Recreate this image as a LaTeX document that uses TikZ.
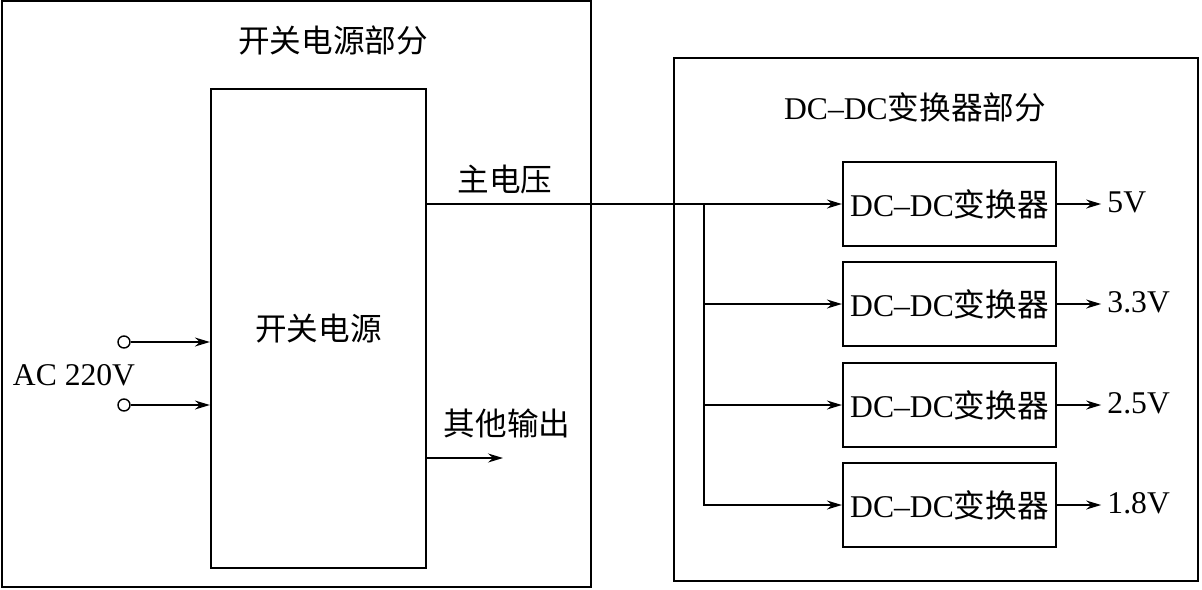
\documentclass[tikz,border=0pt]{standalone}
\usepackage{fontspec}
\setmainfont{Liberation Serif}
\newfontfamily\cjk{Noto Sans CJK SC}
\usepackage{tikz}
\usetikzlibrary{positioning,arrows.meta,calc}

\begin{document}
\begin{tikzpicture}[x=0.02cm,y=-0.02cm,every node/.style={font=\fontsize{18}{21}\selectfont}]
      \tikzstyle{frame}=[draw,line width=1.3pt,inner sep=0pt];
      \tikzstyle{box}=[draw,line width=1.3pt,inner sep=0pt,minimum width=4.26cm,minimum height=1.68cm];
      \tikzstyle{term}=[circle,draw,line width=0.8pt,inner sep=0pt,minimum size=0.24cm];
      \tikzstyle{wire}=[line width=0.9pt];
      \tikzstyle{arr}=[wire,-{Stealth[length=3mm,width=1.8mm,inset=1mm]}];
      \useasboundingbox (0,0) rectangle (1202,589);
      % the two parts
      \node[frame,minimum width=11.78cm,minimum height=11.72cm] (left) at (296.5,294) {};
      \node[frame,minimum width=10.48cm,minimum height=10.46cm] (right) at (936,319.5) {};
      \node (ltitle) at (333,40) {\cjk 开关电源部分};
      \node (rtitle) at (915,107) {DC–DC{\cjk 变换器部分}};
      % switching supply
      \node[frame,minimum width=4.3cm,minimum height=9.58cm] (pw) at (318.5,328.5) {\cjk 开关电源};
      \node[term] (t1) at (124,342) {};
      \node[term] (t2) at (124,405) {};
      \node (ac) at (74,375) {AC 220V};
      \draw[arr] (t1.east) -- (t1 -| pw.west);
      \draw[arr] (t2.east) -- (t2 -| pw.west);
      \node (other) at (507,423) {\cjk 其他输出};
      \coordinate (oend) at (503,458);
      \draw[arr] (oend -| pw.east) -- (oend);
      % converters
      \node[box] (dc1) at (949.5,204) {DC–DC{\cjk 变换器}};
      \node[box] (dc2) at (949.5,304) {DC–DC{\cjk 变换器}};
      \node[box] (dc3) at (949.5,405) {DC–DC{\cjk 变换器}};
      \node[box] (dc4) at (949.5,505) {DC–DC{\cjk 变换器}};
      \node (main) at (505,180) {\cjk 主电压};
      \coordinate (bus) at (704,204);
      \draw[arr] (dc1.west -| pw.east) -- (dc1.west);
      \draw[arr] (bus) |- (dc4.west);
      \draw[arr] (bus |- dc2.west) -- (dc2.west);
      \draw[arr] (bus |- dc3.west) -- (dc3.west);
      % outputs
      \foreach \i/\v in {1/5V,2/3.3V,3/2.5V,4/1.8V}{
        \draw[arr] (dc\i.east) -- ++(44,0) coordinate (o\i);
        \node[anchor=west,inner sep=0pt] (v\i) at ($(o\i)+(6,-2)$) {\v};
      }
    \end{tikzpicture}
\end{document}
